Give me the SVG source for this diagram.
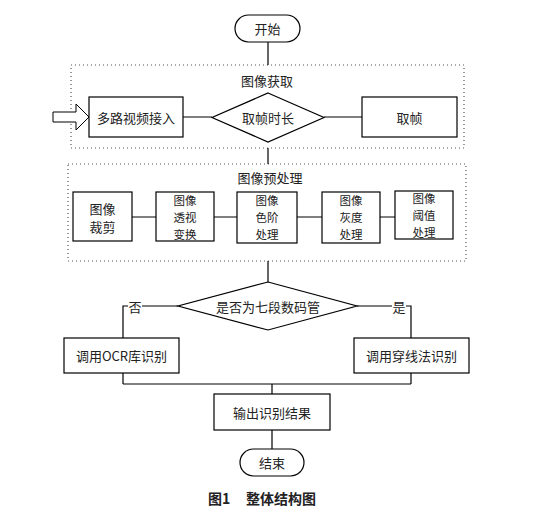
<svg xmlns="http://www.w3.org/2000/svg" width="555" height="511" viewBox="0 0 555 511">
<style>
text{font-family:"Noto Sans CJK SC","Liberation Sans",sans-serif;font-size:13px;fill:#222;text-anchor:middle;dominant-baseline:central}
.s{font-size:11.5px}
.cap{font-size:14px;font-weight:bold;text-anchor:start}
.b{fill:#fff;stroke:#000;stroke-width:1.2}
.grp{fill:none;stroke:#555;stroke-width:1.2;stroke-dasharray:1 3}
.c{fill:none;stroke:#000;stroke-width:1.2}
</style>
<rect width="555" height="511" fill="#fff"/>
<g id="group-acquire"><rect class="grp" x="71" y="65" width="393" height="83"/><text x="267" y="80">图像获取</text></g>
<g id="group-preprocess"><rect class="grp" x="68" y="164" width="398" height="97"/><text x="270" y="177">图像预处理</text></g>
<g id="connectors">
<path class="c" d="M268 42V65M183 117H212M324 117H362M268 148V164M132 217H156M214 217H237M297 217H322M380 217H395M268 261V282"/>
<path class="c" d="M178 306H123V338M357 306H411V338M123 373V384M411 373V384M123 384H411M272 384V394M272 430V449"/>
<path d="M53 112H76V104L89 117L76 130V122H53Z" fill="#fff" stroke="#000" stroke-width="1"/>
<rect x="128" y="298" width="14" height="16" fill="#fff"/><text x="135" y="306">否</text>
<rect x="392" y="298" width="14" height="16" fill="#fff"/><text x="399" y="306">是</text>
</g>
<g id="start"><rect class="b" x="235" y="15" width="65" height="27" rx="13.5"/><text x="267.5" y="28.5">开始</text></g>
<g id="input"><rect class="b" x="89" y="97" width="94" height="40"/><text x="136" y="117">多路视频接入</text></g>
<g id="duration"><polygon class="b" points="268,93 324,117.5 268,142 212,117.5"/><text x="268" y="117.5">取帧时长</text></g>
<g id="grab"><rect class="b" x="362" y="97" width="95" height="40"/><text x="409.5" y="117">取帧</text></g>
<g id="crop"><rect class="b" x="73" y="192" width="59" height="49"/><text x="102.5" y="208">图像</text><text x="102.5" y="226">裁剪</text></g>
<g id="perspective"><rect class="b" x="156" y="192" width="58" height="49"/><text class="s" x="185" y="199.5">图像</text><text class="s" x="185" y="216.5">透视</text><text class="s" x="185" y="233.5">变换</text></g>
<g id="levels"><rect class="b" x="237" y="192" width="60" height="51"/><text class="s" x="267" y="200">图像</text><text class="s" x="267" y="217">色阶</text><text class="s" x="267" y="234">处理</text></g>
<g id="gray"><rect class="b" x="322" y="192" width="58" height="51"/><text class="s" x="351" y="200">图像</text><text class="s" x="351" y="217">灰度</text><text class="s" x="351" y="234">处理</text></g>
<g id="threshold"><rect class="b" x="395" y="191" width="58" height="48"/><text class="s" x="424" y="198">图像</text><text class="s" x="424" y="215">阈值</text><text class="s" x="424" y="232">处理</text></g>
<g id="is7seg"><polygon class="b" points="268,282 357,306 268,330 178,306"/><text x="268" y="306">是否为七段数码管</text></g>
<g id="ocr"><rect class="b" x="64" y="338" width="115" height="35"/><text x="121.5" y="355.5">调用OCR库识别</text></g>
<g id="line-method"><rect class="b" x="354" y="338" width="115" height="35"/><text x="411.5" y="355.5">调用穿线法识别</text></g>
<g id="output"><rect class="b" x="214" y="394" width="116" height="36"/><text x="272" y="412">输出识别结果</text></g>
<g id="end"><rect class="b" x="240" y="449" width="64" height="27" rx="13.5"/><text x="272" y="462.5">结束</text></g>
<text class="cap" x="208" y="498">图1</text><text class="cap" x="246" y="498">整体结构图</text>
</svg>
